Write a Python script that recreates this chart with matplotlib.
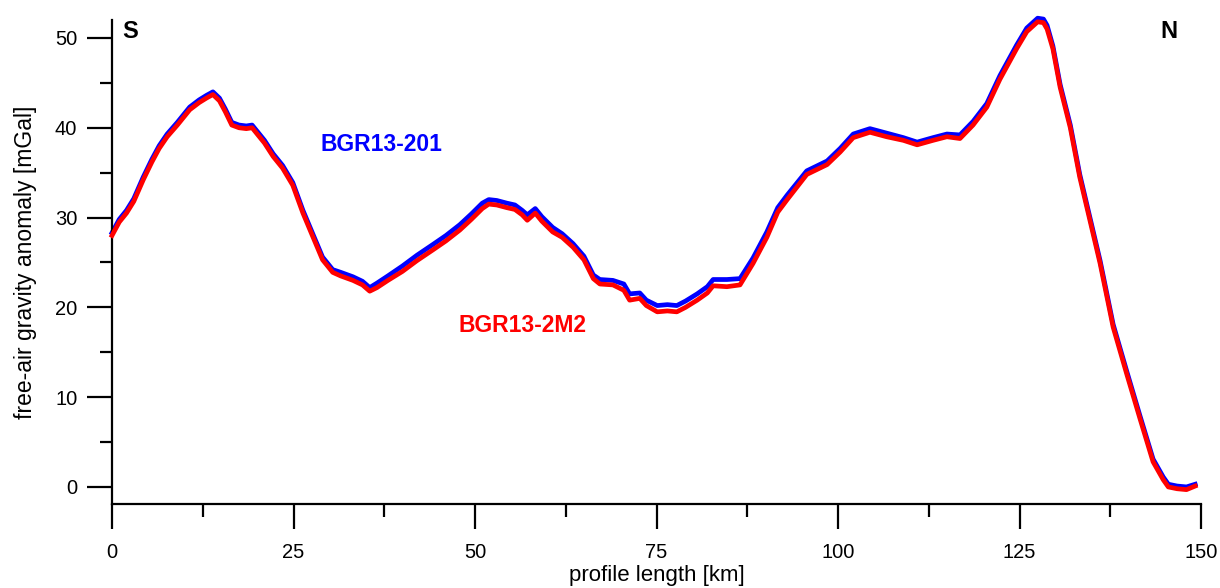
import matplotlib
matplotlib.use("Agg")
import matplotlib.pyplot as plt
from matplotlib.ticker import MultipleLocator

plt.rcParams['font.family'] = ['Liberation Sans', 'DejaVu Sans']

# profile distance [km]
km = [0, 1, 2, 3, 4.3, 5.5, 6.5, 7.6, 9, 10.7, 12, 13, 13.9, 14.8, 15.6, 16.5,
      17.5, 18.5, 19.3, 20, 21, 22.2, 23.5, 24.9, 26.3, 27.7, 29, 30.4, 31.5,
      33.2, 34.5, 35.5, 36.5, 38, 40, 42, 44.2, 46, 47.9, 49.5, 51, 51.9, 53,
      54.4, 55.5, 56.5, 57.2, 58.3, 59.2, 60.7, 62, 63.5, 65, 66.3, 67.2, 69,
      70.5, 71.3, 72.7, 73.6, 75.1, 76.5, 77.8, 79, 80.6, 82, 82.8, 84.7, 86.5,
      88.3, 90.2, 91.7, 93, 95.7, 98.5, 100.3, 102.1, 104.4, 106.7, 109, 110.9,
      113.1, 115, 116.8, 118.6, 120.5, 122.3, 124.6, 126, 127.5, 128.3, 128.8,
      129.6, 130.6, 132, 133.3, 134.7, 136.1, 137.9, 139.8, 141.6, 143.4, 144.8,
      145.5, 146.7, 148, 149.2]

# BGR13-2M2 free-air anomaly [mGal]
red_vals = [28.0, 29.5, 30.5, 31.8, 34.2, 36.2, 37.7, 39.0, 40.3, 42.0, 42.8,
            43.3, 43.7, 43.0, 41.8, 40.3, 40.0, 39.9, 40.0, 39.3, 38.3, 36.8,
            35.5, 33.6, 30.5, 27.8, 25.3, 23.9, 23.5, 23.0, 22.5, 21.8, 22.2,
            23.0, 24.0, 25.2, 26.4, 27.4, 28.6, 29.8, 31.0, 31.5, 31.4, 31.1,
            30.9, 30.3, 29.7, 30.5, 29.6, 28.4, 27.8, 26.7, 25.3, 23.2, 22.6,
            22.5, 21.9, 20.8, 21.0, 20.2, 19.5, 19.6, 19.5, 20.0, 20.8, 21.6,
            22.4, 22.3, 22.5, 24.9, 27.8, 30.6, 32.0, 34.8, 35.9, 37.3, 38.9,
            39.5, 39.0, 38.6, 38.1, 38.6, 39.0, 38.8, 40.3, 42.3, 45.4, 48.8,
            50.7, 51.8, 51.7, 51.0, 48.8, 44.5, 40.0, 34.5, 29.7, 24.9, 17.8,
            12.5, 7.6, 2.8, 0.8, 0.0, -0.2, -0.3, 0.1]

# BGR13-201 free-air anomaly [mGal]
blue_vals = [28.3, 29.8, 30.8, 32.1, 34.5, 36.5, 38.0, 39.3, 40.6, 42.3, 43.1,
             43.6, 44.0, 43.3, 42.1, 40.6, 40.3, 40.2, 40.3, 39.6, 38.6, 37.1,
             35.8, 33.9, 30.8, 28.1, 25.6, 24.2, 23.9, 23.4, 22.9, 22.2, 22.7,
             23.5, 24.6, 25.8, 27.0, 28.0, 29.2, 30.4, 31.6, 32.0, 31.9, 31.6,
             31.4, 30.8, 30.3, 31.0, 30.1, 28.9, 28.2, 27.1, 25.7, 23.6, 23.1,
             23.0, 22.6, 21.5, 21.6, 20.8, 20.2, 20.3, 20.2, 20.7, 21.5, 22.3,
             23.1, 23.1, 23.2, 25.5, 28.4, 31.1, 32.5, 35.2, 36.3, 37.7, 39.3,
             39.9, 39.4, 38.9, 38.4, 38.9, 39.3, 39.2, 40.7, 42.7, 45.8, 49.2,
             51.1, 52.2, 52.1, 51.4, 49.1, 44.8, 40.3, 34.8, 30.0, 25.2, 18.1,
             12.8, 7.9, 3.1, 1.1, 0.3, 0.1, 0.0, 0.3]

x_ticks = [0, 25, 50, 75, 100, 125, 150]
y_ticks = [0, 10, 20, 30, 40, 50]

fig = plt.figure(figsize=(12.2, 5.88), dpi=100)
ax = fig.add_axes([112 / 1220, 84 / 588, (1201 - 112) / 1220, (504 - 20) / 588])

ax.plot(km, blue_vals, color='#0000ff', lw=3.4, solid_joinstyle='round',
        zorder=2, clip_on=False)
ax.plot(km, red_vals, color='#ff0000', lw=3.4, solid_joinstyle='round',
        zorder=3, clip_on=False)

ax.set_xlim(0, 150)
ax.set_ylim(-1.9, 52.0)
ax.set_xticks(x_ticks)
ax.set_yticks(y_ticks)
ax.xaxis.set_minor_locator(MultipleLocator(12.5))
ax.yaxis.set_minor_locator(MultipleLocator(5))

for s in ['top', 'right']:
    ax.spines[s].set_visible(False)
for s in ['left', 'bottom']:
    ax.spines[s].set_linewidth(1.6)

ax.tick_params(axis='both', which='major', direction='out', length=18, width=1.6,
               labelsize=14.5)
ax.tick_params(axis='both', which='minor', direction='out', length=9, width=1.6)
ax.tick_params(axis='x', which='major', pad=10)
ax.tick_params(axis='y', which='major', pad=7)

ax.set_xlabel('profile length [km]', fontsize=16)
ax.set_ylabel('free-air gravity anomaly [mGal]', fontsize=16.5)
ax.xaxis.set_label_coords(0.5, -0.127)
ax.yaxis.set_label_coords(-0.069, 0.5)

fig.text(130 / 1220, 1 - 31 / 588, 'S', fontsize=17, fontweight='bold',
         ha='center', va='center')
fig.text(1169 / 1220, 1 - 31 / 588, 'N', fontsize=17, fontweight='bold',
         ha='center', va='center')
fig.text(320 / 1220, 1 - 144 / 588, 'BGR13-201', fontsize=16.5, fontweight='bold',
         color='#0000ff', ha='left', va='center')
fig.text(458 / 1220, 1 - 326 / 588, 'BGR13-2M2', fontsize=16.5, fontweight='bold',
         color='#ff0000', ha='left', va='center')

fig.savefig('out.png', dpi=100)
